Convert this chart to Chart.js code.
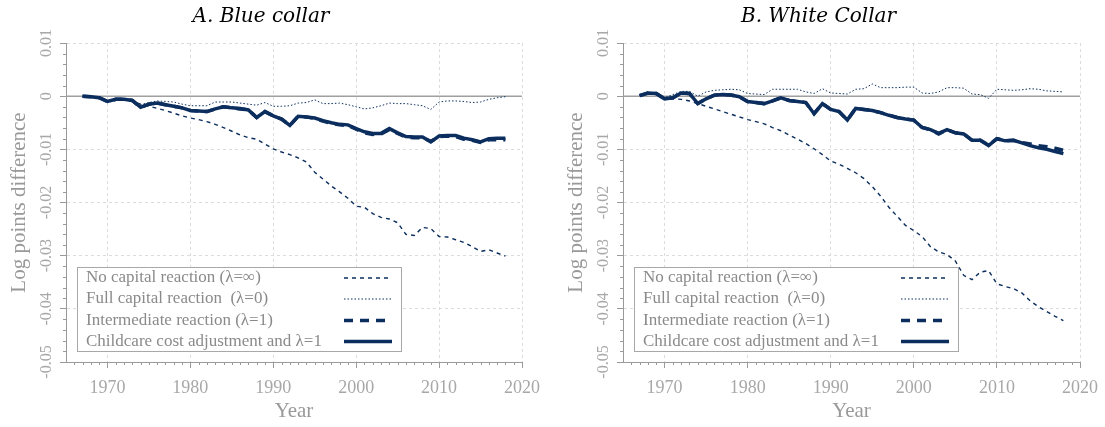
<!DOCTYPE html>
<html>
<head>
<meta charset="utf-8">
<script src="https://cdn.jsdelivr.net/npm/chart.js@4.4.0/dist/chart.umd.min.js"></script>
<style>
    html, body { margin: 0; padding: 0; background: #fff; overflow: hidden; }
    body { width: 1105px; height: 427px; position: relative; }
    .panel { position: absolute; top: 0; }
    #panelA { left: 0; }
    #panelB { left: 557px; }
</style>
</head>
<body>
<div class="panel" id="panelA"><canvas id="chartA" width="552" height="427"></canvas></div>
<div class="panel" id="panelB"><canvas id="chartB" width="572" height="427"></canvas></div>
<script>
/* ==================== Data ==================== */
const years = [
    1967, 1968, 1969, 1970, 1971, 1972, 1973, 1974, 1975, 1976,
    1977, 1978, 1979, 1980, 1981, 1982, 1983, 1984, 1985, 1986,
    1987, 1988, 1989, 1990, 1991, 1992, 1993, 1994, 1995, 1996,
    1997, 1998, 1999, 2000, 2001, 2002, 2003, 2004, 2005, 2006,
    2007, 2008, 2009, 2010, 2011, 2012, 2013, 2014, 2015, 2016,
    2017, 2018
];

const xTicks = [1970, 1980, 1990, 2000, 2010, 2020];
const yTicks = [0.01, 0, -0.01, -0.02, -0.03, -0.04, -0.05];
const yTickLabels = ['0.01', '0', '-0.01', '-0.02', '-0.03', '-0.04', '-0.05'];

const seriesNames = [
    'No capital reaction (\u03bb=\u221e)',
    'Full capital reaction  (\u03bb=0)',
    'Intermediate reaction (\u03bb=1)',
    'Childcare cost adjustment and \u03bb=1'
];

// A. Blue collar
const blueNoCapital = [
    0, -0.0001, -0.0003, -0.0010, -0.0006, -0.0007, -0.0010, -0.0015, -0.0019, -0.0023,
    -0.0027, -0.0032, -0.0037, -0.0041, -0.0044, -0.0048, -0.0053, -0.0059, -0.0066, -0.0073,
    -0.0078, -0.0081, -0.0090, -0.0099, -0.0105, -0.0110, -0.0116, -0.0124, -0.0143, -0.0156,
    -0.0169, -0.0180, -0.0192, -0.0207, -0.0209, -0.0221, -0.0228, -0.0231, -0.0238, -0.0260,
    -0.0262, -0.0247, -0.0249, -0.0264, -0.0265, -0.0270, -0.0275, -0.0283, -0.0292, -0.0289,
    -0.0295, -0.0301
];
const blueFullCapital = [
    0, -0.0001, -0.0003, -0.0009, -0.0006, -0.0006, -0.0008, -0.0016, -0.0012, -0.0009,
    -0.0010, -0.0011, -0.0015, -0.0018, -0.0018, -0.0018, -0.0011, -0.0011, -0.0011, -0.0013,
    -0.0015, -0.0017, -0.0012, -0.0019, -0.0019, -0.0018, -0.0013, -0.0012, -0.0007, -0.0014,
    -0.0014, -0.0013, -0.0016, -0.0020, -0.0024, -0.0022, -0.0018, -0.0013, -0.0014, -0.0014,
    -0.0016, -0.0018, -0.0025, -0.0011, -0.0009, -0.0009, -0.0010, -0.0012, -0.0011, -0.0006,
    -0.0003, -0.0001
];
const blueIntermediate = [
    0, -0.0001, -0.0003, -0.0010, -0.0006, -0.0006, -0.0008, -0.0021, -0.0015, -0.0013,
    -0.0016, -0.0019, -0.0022, -0.0027, -0.0028, -0.0029, -0.0024, -0.0020, -0.0022, -0.0024,
    -0.0026, -0.0040, -0.0029, -0.0037, -0.0043, -0.0055, -0.0038, -0.0039, -0.0042, -0.0047,
    -0.0051, -0.0054, -0.0055, -0.0062, -0.0069, -0.0072, -0.0071, -0.0063, -0.0070, -0.0077,
    -0.0078, -0.0078, -0.0085, -0.0076, -0.0075, -0.0076, -0.0081, -0.0083, -0.0087, -0.0082,
    -0.0082, -0.0082
];
const blueChildcare = [
    0, -0.0001, -0.0003, -0.0010, -0.0006, -0.0006, -0.0008, -0.0021, -0.0015, -0.0013,
    -0.0016, -0.0019, -0.0022, -0.0027, -0.0028, -0.0029, -0.0024, -0.0020, -0.0022, -0.0023,
    -0.0026, -0.0040, -0.0029, -0.0037, -0.0043, -0.0055, -0.0038, -0.0039, -0.0041, -0.0046,
    -0.0050, -0.0053, -0.0054, -0.0061, -0.0067, -0.0070, -0.0070, -0.0061, -0.0069, -0.0076,
    -0.0077, -0.0077, -0.0086, -0.0075, -0.0074, -0.0074, -0.0079, -0.0082, -0.0086, -0.0080,
    -0.0079, -0.0079
];

// B. White Collar
const whiteNoCapital = [
    0.0001, 0.0004, 0.0004, -0.0005, -0.0005, -0.0006, -0.0009, -0.0014, -0.0019, -0.0024,
    -0.0029, -0.0034, -0.0039, -0.0044, -0.0048, -0.0052, -0.0059, -0.0065, -0.0073, -0.0081,
    -0.0089, -0.0099, -0.0110, -0.0122, -0.0128, -0.0136, -0.0144, -0.0155, -0.0170, -0.0188,
    -0.0209, -0.0226, -0.0243, -0.0253, -0.0264, -0.0283, -0.0293, -0.0298, -0.0310, -0.0337,
    -0.0345, -0.0331, -0.0328, -0.0353, -0.0358, -0.0362, -0.0370, -0.0385, -0.0396, -0.0405,
    -0.0414, -0.0422
];
const whiteFullCapital = [
    0.0003, 0.0006, 0.0006, -0.0003, 0.0003, 0.0009, 0.0009, 0.0000, 0.0008, 0.0011,
    0.0012, 0.0013, 0.0012, 0.0005, 0.0004, 0.0003, 0.0013, 0.0013, 0.0013, 0.0013,
    0.0008, 0.0005, 0.0014, 0.0006, 0.0005, 0.0004, 0.0013, 0.0014, 0.0023, 0.0016,
    0.0016, 0.0016, 0.0017, 0.0017, 0.0006, 0.0005, 0.0008, 0.0016, 0.0016, 0.0015,
    0.0004, 0.0003, -0.0004, 0.0013, 0.0012, 0.0011, 0.0012, 0.0014, 0.0013, 0.0010,
    0.0009, 0.0008
];
const whiteIntermediate = [
    0.0001, 0.0006, 0.0005, -0.0005, -0.0003, 0.0006, 0.0005, -0.0014, -0.0005, 0.0002,
    0.0003, 0.0002, -0.0001, -0.0010, -0.0012, -0.0014, -0.0009, -0.0003, -0.0008, -0.0010,
    -0.0012, -0.0033, -0.0014, -0.0025, -0.0029, -0.0045, -0.0023, -0.0025, -0.0027, -0.0031,
    -0.0036, -0.0040, -0.0043, -0.0045, -0.0059, -0.0063, -0.0071, -0.0063, -0.0069, -0.0071,
    -0.0083, -0.0083, -0.0092, -0.0080, -0.0084, -0.0083, -0.0087, -0.0090, -0.0093, -0.0095,
    -0.0098, -0.0102
];
const whiteChildcare = [
    0.0001, 0.0006, 0.0005, -0.0005, -0.0003, 0.0006, 0.0005, -0.0014, -0.0005, 0.0002,
    0.0003, 0.0002, -0.0001, -0.0010, -0.0012, -0.0014, -0.0009, -0.0003, -0.0008, -0.0010,
    -0.0012, -0.0033, -0.0014, -0.0025, -0.0029, -0.0045, -0.0023, -0.0025, -0.0027, -0.0031,
    -0.0036, -0.0040, -0.0043, -0.0045, -0.0059, -0.0063, -0.0070, -0.0063, -0.0069, -0.0071,
    -0.0083, -0.0083, -0.0093, -0.0080, -0.0084, -0.0083, -0.0088, -0.0093, -0.0097, -0.0100,
    -0.0104, -0.0108
];

/* ==================== Styles ==================== */
const NAVY = '#0b2e5e';
const SERIF = "'Liberation Serif', 'Times New Roman', serif";
const TITLE_SERIF = "'DejaVu Serif', 'Liberation Serif', serif";
const AXIS_GREY = '#9a9a9a';
const LABEL_GREY = '#a8a8a8';

const lineStyles = [
    { borderWidth: 1.4, borderDash: [4, 4] },
    { borderWidth: 1, borderDash: [1.5, 2] },
    { borderWidth: 3.5, borderDash: [9, 7] },
    { borderWidth: 3.5, borderDash: [] }
];

function buildDatasets(seriesList) {
    return seriesList.map((values, i) => ({
        label: seriesNames[i],
        data: years.map((yr, j) => ({ x: yr, y: values[j] })),
        borderColor: NAVY,
        backgroundColor: NAVY,
        borderWidth: lineStyles[i].borderWidth,
        borderDash: lineStyles[i].borderDash,
        pointRadius: 0,
        tension: 0,
        fill: false
    }));
}

/* ==================== Decoration plugin ==================== */
// zero line, minor ticks, rotated y labels and the boxed legend
const decorPlugin = {
    id: 'decor',
    beforeDatasetsDraw(chart) {
        const { ctx, chartArea } = chart;
        const y0 = chart.scales.y.getPixelForValue(0);
        ctx.save();
        ctx.strokeStyle = '#a0a0a0';
        ctx.lineWidth = 1.5;
        ctx.beginPath();
        ctx.moveTo(chartArea.left, y0);
        ctx.lineTo(chartArea.right, y0);
        ctx.stroke();
        ctx.restore();
    },
    afterDatasetsDraw(chart) {
        const { ctx, chartArea } = chart;
        const xs = chart.scales.x;
        const ys = chart.scales.y;

        ctx.save();
        ctx.strokeStyle = AXIS_GREY;
        ctx.lineWidth = 1;
        ctx.beginPath();
        // minor x ticks, one per year
        for (let yr = 1966; yr <= 2019; yr++) {
            if (yr % 10 === 0) continue;
            const px = Math.round(xs.getPixelForValue(yr)) + 0.5;
            ctx.moveTo(px, chartArea.bottom);
            ctx.lineTo(px, chartArea.bottom + 3);
        }
        // minor y ticks, every 0.002
        for (let k = -24; k <= 4; k++) {
            if (k % 5 === 0) continue;
            const py = Math.round(ys.getPixelForValue(k * 0.002)) + 0.5;
            ctx.moveTo(chartArea.left, py);
            ctx.lineTo(chartArea.left - 3, py);
        }
        ctx.stroke();

        // rotated y tick labels
        ctx.fillStyle = LABEL_GREY;
        ctx.font = `16px ${SERIF}`;
        ctx.textAlign = 'center';
        ctx.textBaseline = 'middle';
        yTicks.forEach((v, i) => {
            const py = ys.getPixelForValue(v);
            ctx.save();
            ctx.translate(chartArea.left - 19, py);
            ctx.rotate(-Math.PI / 2);
            ctx.fillText(yTickLabels[i], 0, 0);
            ctx.restore();
        });

        // legend box
        const boxLeft = chartArea.left + 11;
        const boxBottom = chartArea.bottom - 11;
        const boxW = 324;
        const boxH = 84;
        const boxTop = boxBottom - boxH;
        ctx.fillStyle = '#fff';
        ctx.fillRect(boxLeft, boxTop, boxW, boxH);
        ctx.strokeStyle = '#a8a8a8';
        ctx.lineWidth = 1;
        ctx.strokeRect(Math.round(boxLeft) + 0.5, Math.round(boxTop) + 0.5, boxW, boxH);

        const rowY = [11, 32, 53.5, 74.5];
        ctx.font = `17px ${SERIF}`;
        ctx.textAlign = 'left';
        ctx.textBaseline = 'middle';
        chart.data.datasets.forEach((ds, i) => {
            const cy = boxTop + rowY[i];
            ctx.fillStyle = '#8a8a8a';
            ctx.fillText(ds.label, boxLeft + 9, cy);
            ctx.save();
            ctx.strokeStyle = ds.borderColor;
            ctx.lineWidth = ds.borderWidth;
            ctx.setLineDash(ds.borderDash);
            ctx.beginPath();
            ctx.moveTo(boxLeft + 267, cy);
            ctx.lineTo(boxLeft + 315, cy);
            ctx.stroke();
            ctx.restore();
        });
        ctx.restore();
    }
};

/* ==================== Chart factory ==================== */
function makeChart(canvasId, titleText, seriesList, rightPad) {
    const ctx = document.getElementById(canvasId);
    return new Chart(ctx, {
        type: 'line',
        data: { datasets: buildDatasets(seriesList) },
        options: {
            responsive: false,
            animation: false,
            layout: { padding: { left: 0, right: rightPad, top: 0, bottom: 0 } },
            plugins: {
                legend: { display: false },
                tooltip: { enabled: false },
                title: {
                    display: true,
                    text: titleText,
                    color: '#000',
                    font: { family: TITLE_SERIF, size: 20, style: 'italic', weight: 'normal' },
                    padding: { top: 5, bottom: 14 }
                }
            },
            scales: {
                x: {
                    type: 'linear',
                    min: 1965,
                    max: 2020,
                    afterBuildTicks: scale => { scale.ticks = xTicks.map(v => ({ value: v })); },
                    afterFit: scale => { scale.height = 65; },
                    ticks: {
                        autoSkip: false,
                        maxRotation: 0,
                        padding: 9,
                        color: LABEL_GREY,
                        font: { family: SERIF, size: 18 },
                        callback: v => String(v)
                    },
                    grid: {
                        color: '#dcdcdc',
                        lineWidth: 1,
                        tickLength: 6,
                        tickColor: AXIS_GREY,
                        tickBorderDash: []
                    },
                    border: { display: true, color: AXIS_GREY, width: 1, dash: [3, 3] },
                    title: {
                        display: true,
                        text: 'Year',
                        color: '#999',
                        font: { family: SERIF, size: 21 },
                        padding: 3
                    }
                },
                y: {
                    type: 'linear',
                    min: -0.05,
                    max: 0.01,
                    afterBuildTicks: scale => { scale.ticks = yTicks.map(v => ({ value: v })); },
                    afterFit: scale => { scale.width = 66; },
                    ticks: { display: false },
                    grid: {
                        color: c => (c.tick && c.tick.value === 0) ? 'rgba(0,0,0,0)' : '#dcdcdc',
                        lineWidth: 1,
                        tickLength: 6,
                        tickColor: AXIS_GREY,
                        tickBorderDash: []
                    },
                    border: { display: true, color: AXIS_GREY, width: 1, dash: [3, 3] },
                    title: {
                        display: true,
                        text: 'Log points difference',
                        color: '#999',
                        font: { family: SERIF, size: 21 },
                        padding: 7
                    }
                }
            }
        },
        plugins: [decorPlugin]
    });
}

makeChart('chartA', 'A. Blue collar',
    [blueNoCapital, blueFullCapital, blueIntermediate, blueChildcare], 30);
makeChart('chartB', 'B. White Collar',
    [whiteNoCapital, whiteFullCapital, whiteIntermediate, whiteChildcare], 49);
</script>
</body>
</html>
